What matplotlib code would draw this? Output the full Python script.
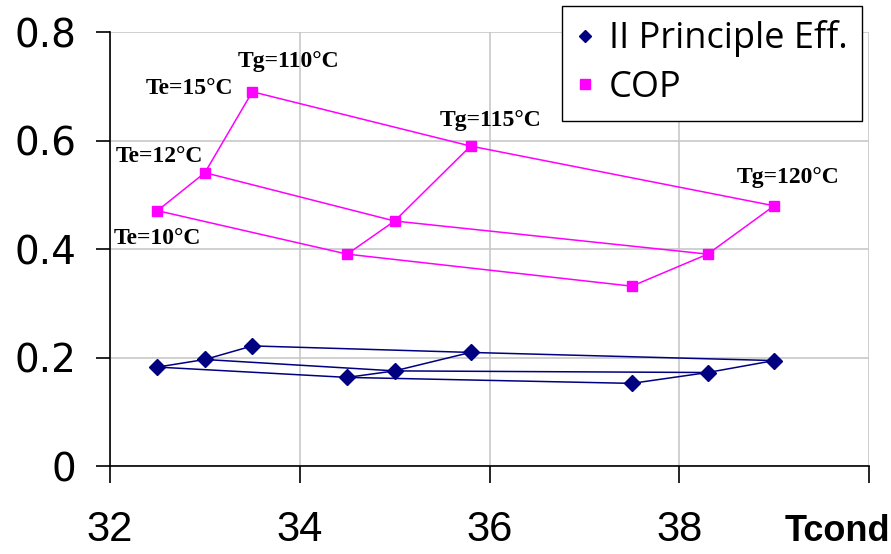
import numpy as np
import matplotlib

matplotlib.use("Agg")
import matplotlib.pyplot as plt
from matplotlib.lines import Line2D

# evaporator / generator temperatures (rows = Tg, columns = Te)
te_values = [10, 12, 15]
tg_values = [110, 115, 120]

tcond = [
    [32.5, 33.0, 33.5],
    [34.5, 35.0, 35.8],
    [37.5, 38.3, 39.0],
]
cop = [
    [0.471, 0.541, 0.690],
    [0.391, 0.452, 0.590],
    [0.332, 0.391, 0.480],
]
eff_2nd = [
    [0.183, 0.197, 0.222],
    [0.164, 0.176, 0.210],
    [0.153, 0.173, 0.195],
]

x_ticks = [32, 34, 36, 38, 40]
x_ticklabels = ["32", "34", "36", "38", ""]
y_ticks = [0, 0.2, 0.4, 0.6, 0.8]
y_ticklabels = ["0", "0.2", "0.4", "0.6", "0.8"]

BLUE = "#000080"
PINK = "#ff00ff"

tcond = np.array(tcond)
cop = np.array(cop)
eff_2nd = np.array(eff_2nd)

fig = plt.figure(figsize=(8.91, 5.54), dpi=100)
ax = fig.add_axes([0.1235, 0.158, 0.8518, 0.7842])


def draw_mesh(ax, x, y, color, marker, ms):
    # one line for every Tg (across Te) and one for every Te (across Tg)
    for i in range(x.shape[0]):
        ax.plot(x[i, :], y[i, :], color=color, lw=1.1, zorder=3)
    for j in range(x.shape[1]):
        ax.plot(x[:, j], y[:, j], color=color, lw=1.1, zorder=3)
    ax.plot(x.ravel(), y.ravel(), linestyle="none", marker=marker,
            color=color, markersize=ms, zorder=4)


draw_mesh(ax, tcond, eff_2nd, BLUE, "D", 8)
draw_mesh(ax, tcond, cop, PINK, "s", 7.5)

# temperature labels on the COP mesh
serif = dict(family="Liberation Serif", weight="bold", fontsize=17)
tg_offsets = [(36, 30), (20, 26), (14, 28)]
for i, tg in enumerate(tg_values):
    ax.annotate("Tg=%d°C" % tg, xy=(tcond[i, -1], cop[i, -1]),
                xytext=tg_offsets[i], textcoords="offset pixels",
                ha="center", va="center", **serif)
te_offsets = [(0, -28), (-46, 16), (-63, 3)]
for j, te in enumerate(te_values):
    ax.annotate("Te=%d°C" % te, xy=(tcond[0, j], cop[0, j]),
                xytext=te_offsets[j], textcoords="offset pixels",
                ha="center", va="center", **serif)

ax.set_xlim(32, 40)
ax.set_ylim(0, 0.8)
ax.set_xticks(x_ticks)
ax.set_xticklabels(x_ticklabels, family="Liberation Sans", fontsize=30)
ax.set_yticks(y_ticks)
ax.set_yticklabels(y_ticklabels, family="DejaVu Sans", fontsize=28)
ax.tick_params(axis="x", direction="out", length=12, width=1.2, pad=19)
ax.tick_params(axis="y", direction="out", length=10, width=1.2, pad=14)

ax.grid(True, color="#c8c8c8", lw=1.2, zorder=0)
for side in ["top", "right"]:
    ax.spines[side].set_visible(False)
for side in ["left", "bottom"]:
    ax.spines[side].set_linewidth(1.2)
    ax.spines[side].set_zorder(5)

ax.annotate("Tcond", xy=(40, 0), xytext=(21, -65), textcoords="offset pixels",
            ha="right", va="center", family="Liberation Sans",
            weight="bold", fontsize=26, annotation_clip=False)

handles = [
    Line2D([], [], linestyle="none", marker="D", color=BLUE, markersize=6),
    Line2D([], [], linestyle="none", marker="s", color=PINK, markersize=7),
]
leg = fig.legend(handles, ["II Principle Eff.", "COP"],
                 loc="upper left", bbox_to_anchor=(0.6308, 0.9892),
                 prop={"family": "Open Sans", "size": 26}, frameon=True,
                 fancybox=False, framealpha=1, edgecolor="black",
                 handlelength=0.45, handletextpad=0.45, borderpad=0.4,
                 labelspacing=0.35, borderaxespad=0)
leg.get_frame().set_linewidth(1.0)

fig.savefig("out.png", dpi=100)
